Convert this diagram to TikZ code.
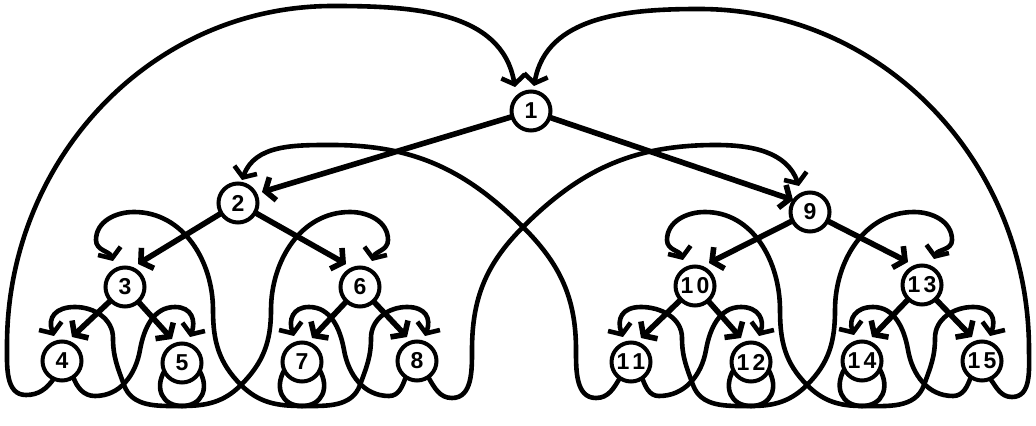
\documentclass[tikz,border=0pt]{standalone}
\usepackage{fontspec}
\setmainfont{Liberation Sans}
\usetikzlibrary{arrows.meta,calc}
\begin{document}
\begin{tikzpicture}[x=0.5pt,y=0.5pt,
  nd/.style={circle,draw,line width=2pt,minimum size=19.5pt,inner sep=0pt,outer sep=0pt,
    font=\fontsize{11.5}{13}\selectfont\bfseries},
  thr/.style={line width=2.3pt,-{Straight Barb[length=4pt,width=12pt]}},
  tre/.style={line width=2.8pt,-{Straight Barb[length=4pt,width=12pt]}}]
\useasboundingbox (0,0) rectangle (1036,-426);
% nodes
\node[nd] (n1) at (531,-111) {1};
\node[nd] (n2) at (238,-203) {2};
\node[nd] (n9) at (810,-212) {9};
\node[nd] (n3) at (125,-287) {3};
\node[nd] (n6) at (360,-287) {6};
\node[nd] (n10) at (695,-286) {1\kern1.5pt0};
\node[nd] (n13) at (922,-285) {1\kern1.5pt3};
\node[nd] (n4) at (62,-361) {4};
\node[nd] (n5) at (182,-363) {5};
\node[nd] (n7) at (302,-362) {7};
\node[nd] (n8) at (417,-361) {8};
\node[nd] (n11) at (631,-362) {1\kern1.5pt1};
\node[nd] (n12) at (751,-362) {1\kern1.5pt2};
\node[nd] (n14) at (862,-361) {1\kern1.5pt4};
\node[nd] (n15) at (982,-361) {1\kern1.5pt5};
% tree edges
\draw[tre] (n1) -- ($(n2)+(24,11)$);
\draw[tre] (n1) -- ($(n9)+(-17,12)$);
\draw[tre] (n2) -- ($(n3)+(13,23)$);
\draw[tre] (n2) -- ($(n6)+(-14,23)$);
\draw[tre] (n9) -- ($(n10)+(14,23)$);
\draw[tre] (n9) -- ($(n13)+(-14,23)$);
\draw[tre] (n3) -- ($(n4)+(10,24)$);
\draw[tre] (n3) -- ($(n5)+(-10,24)$);
\draw[tre] (n6) -- ($(n7)+(10,24)$);
\draw[tre] (n6) -- ($(n8)+(-10,24)$);
\draw[tre] (n10) -- ($(n11)+(10,24)$);
\draw[tre] (n10) -- ($(n12)+(-10,24)$);
\draw[tre] (n13) -- ($(n14)+(10,24)$);
\draw[tre] (n13) -- ($(n15)+(-10,24)$);
% big arcs to the root
\draw[thr] (n4.245) to[out=235,in=0] (26,-395) to[out=180,in=-90] (7,-345)
  to[out=90,in=180] (333,-6) to[out=0,in=100] ($(n1)+(-16,24)$);
\draw[thr] (n15.-65) to[out=-55,in=180] (1012,-397) to[out=0,in=-90] (1029,-350)
  to[out=90,in=0] (699,-9) to[out=180,in=80] ($(n1)+(3,25)$);
% left subtree threads
\draw[thr] (n5.-25) to[out=-60,in=0,looseness=1.3] (182,-406) to[out=180,in=-70] (124,-385)
  to[out=110,in=-90] (113,-338) to[out=90,in=0] (75,-307)
  to[out=180,in=110,looseness=1.4] ($(n4)+(-8,25)$);
\draw[thr] (n4.-55) to[out=-70,in=180] (95,-396) to[out=0,in=-100] (140,-350)
  to[out=80,in=180] (175,-307) to[out=0,in=70,looseness=1.3] ($(n5)+(8,26)$);
\draw[thr] (n5.205) to[out=240,in=180,looseness=1.3] (182,-406) to[out=0,in=225] (241,-385)
  to[out=45,in=-90] (271,-310) to[out=90,in=180] (350,-212) to[out=0,in=90] (388,-240)
  to[out=-90,in=70] ($(n6)+(12,26)$);
\draw[thr] (n7.-25) to[out=-60,in=0,looseness=1.3] (302,-406) to[out=180,in=-45] (241,-385)
  to[out=135,in=-90] (213,-310) to[out=90,in=0] (134,-212) to[out=180,in=90] (96,-240)
  to[out=-90,in=110] ($(n3)+(-12,26)$);
\draw[thr] (n7.205) to[out=240,in=180,looseness=1.3] (302,-406) to[out=0,in=250] (360,-385)
  to[out=70,in=-90] (371,-338) to[out=90,in=180] (407,-307)
  to[out=0,in=70,looseness=1.4] ($(n8)+(8,25)$);
\draw[thr] (n8.235) to[out=250,in=0] (389,-396) to[out=180,in=-80] (344,-350)
  to[out=100,in=0] (309,-307) to[out=180,in=110,looseness=1.3] ($(n7)+(-8,26)$);
% crossing threads between subtrees
\draw[thr] (n8.-55) to[out=-60,in=180] (452,-398) to[out=0,in=-90] (472,-350)
  to[out=90,in=225] (523,-227) to[out=45,in=180] (716,-145) to[out=0,in=110] ($(n9)+(-11,26)$);
\draw[thr] (n11.235) to[out=240,in=0] (596,-398) to[out=180,in=-90] (576,-350)
  to[out=90,in=-45] (523,-227) to[out=135,in=0] (332,-145) to[out=180,in=70] ($(n2)+(4,23)$);
% right subtree threads
\draw[thr] (n14.205) to[out=240,in=180,looseness=1.3] (862,-406) to[out=0,in=250] (924,-385)
  to[out=70,in=-90] (935,-338) to[out=90,in=180] (973,-307)
  to[out=0,in=70,looseness=1.4] ($(n15)+(8,25)$);
\draw[thr] (n15.235) to[out=250,in=0] (953,-396) to[out=180,in=-80] (908,-350)
  to[out=100,in=0] (873,-307) to[out=180,in=110,looseness=1.3] ($(n14)+(-8,26)$);
\draw[thr] (n14.-25) to[out=-60,in=0,looseness=1.3] (862,-406) to[out=180,in=-45] (807,-385)
  to[out=135,in=-90] (780,-310) to[out=90,in=0] (705,-212) to[out=180,in=90] (667,-240)
  to[out=-90,in=110] ($(n10)+(-12,26)$);
\draw[thr] (n12.205) to[out=240,in=180,looseness=1.3] (751,-406) to[out=0,in=225] (807,-385)
  to[out=45,in=-90] (835,-310) to[out=90,in=180] (914,-212) to[out=0,in=90] (952,-240)
  to[out=-90,in=70] ($(n13)+(12,26)$);
\draw[thr] (n12.-25) to[out=-60,in=0,looseness=1.3] (751,-406) to[out=180,in=-70] (693,-385)
  to[out=110,in=-90] (682,-338) to[out=90,in=0] (641,-307)
  to[out=180,in=110,looseness=1.4] ($(n11)+(-8,25)$);
\draw[thr] (n11.-55) to[out=-70,in=180] (659,-396) to[out=0,in=-100] (706,-350)
  to[out=80,in=180] (741,-307) to[out=0,in=70,looseness=1.3] ($(n12)+(8,26)$);
\end{tikzpicture}
\end{document}
